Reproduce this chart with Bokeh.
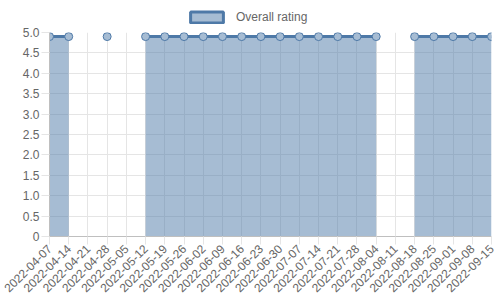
import math
from bokeh.plotting import figure
from bokeh.layouts import column
from bokeh.models import Range1d, FixedTicker, Legend, LegendItem, CustomJSTickFormatter
from bokeh.embed import file_html
from bokeh.resources import INLINE

dates = ["2022-04-07", "2022-04-14", "2022-04-21", "2022-04-28", "2022-05-05", "2022-05-12",
         "2022-05-19", "2022-05-26", "2022-06-02", "2022-06-09", "2022-06-16", "2022-06-23",
         "2022-06-30", "2022-07-07", "2022-07-14", "2022-07-21", "2022-07-28", "2022-08-04",
         "2022-08-11", "2022-08-18", "2022-08-25", "2022-09-01", "2022-09-08", "2022-09-15"]
ratings = [4.9, 4.9, None, 4.9, None, 4.9,
           4.9, 4.9, 4.9, 4.9, 4.9, 4.9,
           4.9, 4.9, 4.9, 4.9, 4.9, 4.9,
           None, 4.9, 4.9, 4.9, 4.9, 4.9]
y_ticks = [0, 0.5, 1.0, 1.5, 2.0, 2.5, 3.0, 3.5, 4.0, 4.5, 5.0]
series_name = "Overall rating"

LINE = "#4e79a7"
FILL = "#a6bcd3"
TXT = "#666666"
FONT = "Liberation Sans"

xs = list(range(len(dates)))
ys = [float("nan") if v is None else v for v in ratings]

# legend strip
lg = figure(width=500, height=26, output_backend="svg", toolbar_location=None,
            x_range=Range1d(0, 1), y_range=Range1d(0, 1),
            min_border=0)
lg.axis.visible = False
lg.grid.visible = False
lg.outline_line_color = None
dummy = lg.quad(left=[2], right=[3], top=[3], bottom=[2], fill_color=FILL,
                line_color=LINE, line_width=3)
legend = Legend(items=[LegendItem(label=series_name, renderers=[dummy])],
                location=(137, 2), orientation="horizontal",
                glyph_width=41, glyph_height=14, label_height=14, label_text_font=FONT,
                label_text_font_size="12px", label_text_color=TXT,
                border_line_color=None, background_fill_alpha=0,
                padding=0, margin=0, label_standoff=9, spacing=0)
lg.add_layout(legend, "center")

p = figure(width=500, height=274, output_backend="svg", toolbar_location=None,
           x_range=Range1d(0, len(dates) - 1), y_range=Range1d(0, 5),
           min_border_left=49, min_border_right=9, min_border_top=6, min_border_bottom=64)
p.outline_line_color = None

# filled areas for contiguous runs
runs, cur = [], []
for x, v in zip(xs, ratings):
    if v is None:
        if cur:
            runs.append(cur)
        cur = []
    else:
        cur.append((x, v))
if cur:
    runs.append(cur)
for r in runs:
    if len(r) >= 2:
        p.varea(x=[a for a, _ in r], y1=[0] * len(r), y2=[b for _, b in r],
                fill_color=LINE, fill_alpha=0.5)

p.line(xs, ys, line_color=LINE, line_width=3)
px = [x for x, v in zip(xs, ratings) if v is not None]
py = [v for v in ratings if v is not None]
p.scatter(px, py, size=8, fill_color=FILL, line_color=LINE, line_width=1)

# axes
p.xaxis.ticker = FixedTicker(ticks=xs)
p.xaxis.major_label_overrides = {i: d for i, d in enumerate(dates)}
p.xaxis.major_label_orientation = math.pi / 4
p.yaxis.ticker = FixedTicker(ticks=y_ticks)
p.yaxis.formatter = CustomJSTickFormatter(code="return tick == 0 ? '0' : tick.toFixed(1);")
for ax in (p.xaxis, p.yaxis):
    ax.axis_line_color = "#bfbfbf"
    ax.major_tick_line_color = "#e5e5e5"
    ax.major_tick_out = 8
    ax.major_tick_in = 0
    ax.minor_tick_line_color = None
    ax.major_label_text_font = FONT
    ax.major_label_text_font_size = "12px"
    ax.major_label_text_color = TXT
    ax.major_label_standoff = 2
p.grid.grid_line_color = "#e5e5e5"
p.xgrid.ticker = FixedTicker(ticks=xs)
p.ygrid.ticker = FixedTicker(ticks=y_ticks)

layout = column(lg, p, spacing=0)
open("out.html", "w").write(file_html(layout, INLINE))
